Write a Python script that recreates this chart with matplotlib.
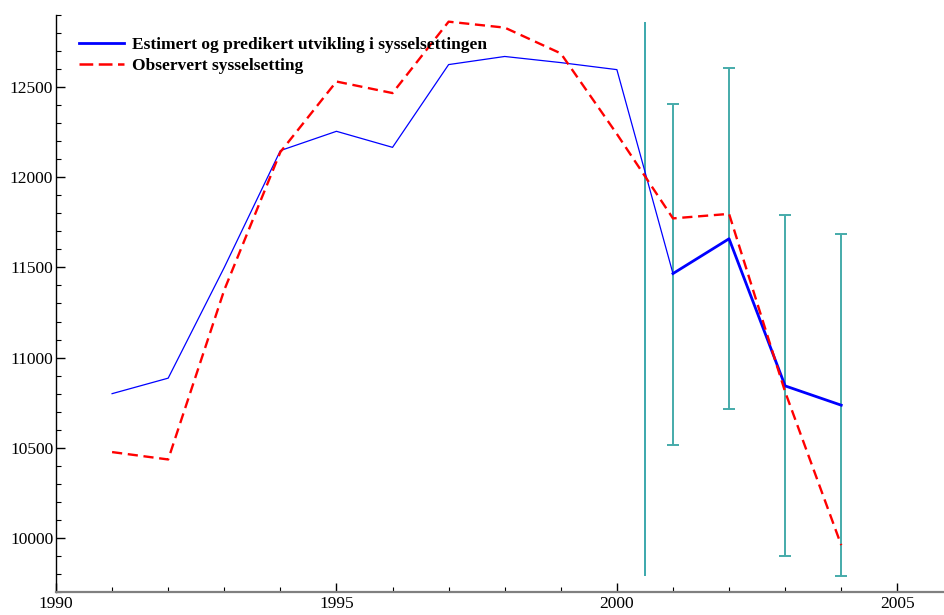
import matplotlib
matplotlib.use("Agg")
import matplotlib.pyplot as plt
from matplotlib.ticker import MultipleLocator

plt.rcParams['font.family'] = ['Liberation Serif', 'DejaVu Serif']

# estimated (thin) and predicted (thick) employment
years_est = [1991, 1992, 1993, 1994, 1995, 1996, 1997, 1998, 1999, 2000, 2001]
est = [10800, 10886, 11500, 12148, 12255, 12166, 12625, 12670, 12636, 12597, 11466]
years_pred = [2001, 2002, 2003, 2004]
pred = [11466, 11659, 10843, 10736]

# observed employment
years_obs = [1991, 1992, 1993, 1994, 1995, 1996, 1997, 1998, 1999, 2000, 2001, 2002, 2003, 2004]
obs = [10476, 10435, 11375, 12140, 12531, 12467, 12863, 12830, 12687, 12240, 11772, 11797, 10810, 9960]

# prediction intervals
err_years = [2001, 2002, 2003, 2004]
err_low = [10518, 10716, 9899, 9790]
err_high = [12408, 12605, 11789, 11684]

# forecast start marker
split_year = 2000.5
split_low, split_high = 9790, 12863

fig = plt.figure(figsize=(9.45, 6.15), dpi=100)
ax = fig.add_axes([56/945, 23/615, 1 - 56/945, 577/615])

ax.vlines(split_year, split_low, split_high, color='#1a9a9e', lw=1.2)
ax.errorbar(err_years, pred,
            yerr=[[p - l for p, l in zip(pred, err_low)], [h - p for p, h in zip(pred, err_high)]],
            fmt='none', ecolor='#45abaa', elinewidth=1.4, capsize=4.4, capthick=1.4)

ax.plot(years_est, est, color='#0000ff', lw=0.9)
ax.plot(years_pred, pred, color='#0000ff', lw=2.0)
ax.plot(years_obs, obs, color='#ff0000', lw=1.7, dashes=(4.3, 2.4))

# legend handles drawn bolder, as in the original
ax.plot([], [], color='#0000ff', lw=2.0,
        label='Estimert og predikert utvikling i sysselsettingen')
ax.plot([], [], color='#ff0000', lw=1.8, dashes=(5.5, 2.2),
        label='Observert sysselsetting')

ax.set_xlim(1990, 2005.85)
ax.set_ylim(9700, 12900)
ax.xaxis.set_major_locator(MultipleLocator(5))
ax.xaxis.set_minor_locator(MultipleLocator(1))
ax.yaxis.set_major_locator(MultipleLocator(500))
ax.yaxis.set_minor_locator(MultipleLocator(100))
ax.tick_params(which='both', direction='in', labelsize=12.5, color='black')
ax.tick_params(which='major', length=6.5, width=1)
ax.tick_params(which='minor', length=3.5, width=0.8)
ax.tick_params(axis='y', pad=2)
ax.tick_params(axis='x', pad=3)

ax.spines['top'].set_visible(False)
ax.spines['right'].set_visible(False)
ax.spines['bottom'].set_color('#808080')
ax.spines['bottom'].set_linewidth(1.6)
ax.spines['left'].set_linewidth(1.0)

ax.legend(loc='upper left', bbox_to_anchor=(23/889, (577 - 22)/577), frameon=False,
          prop={'weight': 'bold', 'size': 12.5}, handlelength=2.6, handletextpad=0.45,
          labelspacing=0.25, borderaxespad=0, borderpad=0)

fig.savefig('out.png', dpi=100)
